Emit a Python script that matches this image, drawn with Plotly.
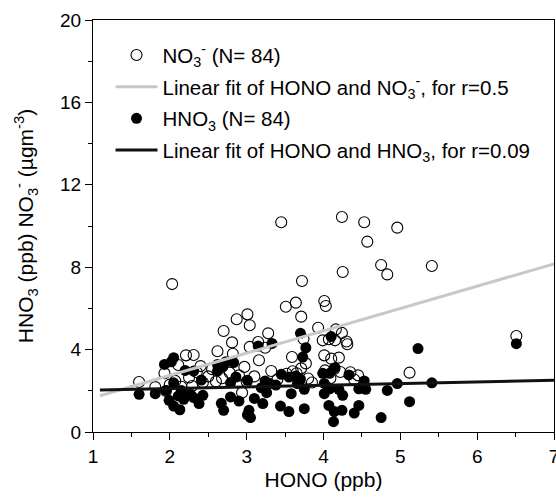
import numpy as np
import plotly.graph_objects as go

# HONO (ppb) vs NO3- (open circles)
no3_hono = [3.45, 4.24, 4.53, 4.96, 4.57, 2.03, 3.72, 4.75, 4.83, 4.25, 5.41, 3.51, 3.64, 4.01, 4.03,
            3.71, 3.01, 3.04, 2.87, 2.70, 2.81, 3.28, 3.15, 3.04, 3.24, 3.93, 4.16, 4.24, 3.99, 4.07,
            4.15, 4.30, 4.31, 3.74, 2.62, 2.82, 2.21, 2.31, 3.59, 4.01, 4.10, 4.20, 2.40, 2.97, 3.77,
            3.71, 4.02, 4.14, 3.32, 5.12, 1.93, 2.68, 4.09, 1.60, 2.07, 1.81, 2.29, 2.94, 1.95, 2.78,
            4.22, 3.52, 2.43, 2.11, 3.16, 6.51, 2.55, 2.25, 3.40, 3.60, 3.85, 4.45, 2.00, 2.35, 2.90,
            3.10, 3.65, 4.40, 2.15, 2.60, 3.80, 4.35, 3.00, 2.50]
no3_val = [10.18, 10.44, 10.18, 9.92, 9.24, 7.18, 7.33, 8.11, 7.65, 7.77, 8.06, 6.08, 6.28, 6.36, 6.12,
           5.60, 5.71, 5.18, 5.47, 4.90, 4.35, 4.79, 4.37, 4.13, 4.09, 5.06, 4.98, 4.81, 4.45, 4.50,
           4.45, 4.39, 4.26, 4.51, 3.92, 3.80, 3.72, 3.74, 3.64, 3.72, 3.56, 3.61, 3.20, 3.16, 3.33,
           3.09, 2.99, 3.06, 2.96, 2.88, 2.85, 2.61, 2.61, 2.43, 2.48, 2.18, 2.23, 1.91, 1.99, 2.88,
           2.91, 2.83, 2.40, 3.25, 3.48, 4.66, 3.05, 2.65, 2.55, 2.95, 2.40, 2.75, 2.30, 2.90, 2.75,
           2.70, 2.85, 2.55, 2.20, 2.45, 2.60, 2.90, 2.45, 2.70]

# HONO (ppb) vs HNO3 (filled circles)
hno3_hono = [6.51, 5.23, 5.41, 4.96, 4.83, 5.12, 4.75, 4.10, 3.70, 3.77, 3.73, 3.33, 3.15, 4.15, 4.33,
             3.99, 4.08, 4.53, 4.46, 4.55, 4.01, 4.07, 4.01, 4.25, 4.07, 4.14, 4.24, 4.13, 4.46, 4.40,
             3.45, 3.55, 3.64, 3.70, 3.38, 3.75, 3.58, 3.75, 3.44, 3.55, 3.24, 3.30, 3.26, 3.01, 2.86,
             2.79, 2.83, 2.73, 2.62, 2.62, 2.69, 3.10, 3.21, 3.03, 3.01, 3.05, 2.67, 2.70, 2.79, 2.90,
             2.41, 2.31, 2.20, 2.05, 2.02, 1.93, 2.05, 1.95, 2.15, 2.27, 2.43, 2.38, 2.31, 1.99, 2.05,
             2.13, 2.11, 1.60, 1.81, 2.18, 4.20, 3.19, 3.66, 4.08]
hno3_val = [4.29, 4.05, 2.39, 2.35, 2.02, 1.47, 0.70, 4.63, 4.79, 4.09, 3.64, 4.30, 4.17, 3.12, 2.77,
            2.85, 2.85, 2.48, 2.10, 2.07, 2.36, 2.15, 1.86, 1.78, 1.29, 0.99, 1.05, 0.50, 1.29, 0.92,
            2.80, 2.67, 2.72, 2.56, 2.28, 2.07, 1.86, 1.13, 1.26, 0.99, 2.48, 2.35, 1.91, 2.51, 2.67,
            2.39, 3.37, 3.41, 3.28, 2.96, 3.16, 1.63, 1.38, 1.05, 0.83, 0.70, 1.39, 1.05, 1.70, 1.50,
            2.52, 2.96, 2.99, 3.61, 3.41, 3.28, 2.39, 2.02, 2.02, 1.83, 1.78, 1.38, 1.67, 1.54, 1.26,
            1.08, 1.75, 1.83, 1.86, 1.59, 2.07, 2.15, 2.35, 2.10]

# Linear fits (slope, intercept) and fit x-extent
no3_fit = (1.083, 0.58)
hno3_fit = (0.0795, 1.953)
fit_x = [1.09, 7.0]

fx = np.array(fit_x)

fig = go.Figure()
fig.add_trace(go.Scatter(
    x=no3_hono, y=no3_val, mode="markers",
    name="NO<sub>3</sub><sup>-</sup> (N= 84)", legendrank=1, legendgroup="a",
    marker=dict(symbol="circle-open", size=11, color="black", line=dict(width=1.1, color="black")),
))
fig.add_trace(go.Scatter(
    x=hno3_hono, y=hno3_val, mode="markers",
    name="HNO<sub>3</sub> (N= 84)", legendrank=3, legendgroup="c",
    marker=dict(symbol="circle", size=11, color="black", line=dict(width=0)),
))
fig.add_trace(go.Scatter(
    x=fx, y=no3_fit[0] * fx + no3_fit[1], mode="lines",
    name="Linear fit of HONO and NO<sub>3</sub><sup>-</sup>, for r=0.5", legendrank=2, legendgroup="b",
    line=dict(color="#c8c8c8", width=3),
))
fig.add_trace(go.Scatter(
    x=fx, y=hno3_fit[0] * fx + hno3_fit[1], mode="lines",
    name="Linear fit of HONO and HNO<sub>3</sub>, for r=0.09", legendrank=4, legendgroup="d",
    line=dict(color="#111111", width=3),
))

axis_common = dict(
    showline=True, linecolor="black", linewidth=1.2, mirror=True,
    ticks="outside", ticklen=7, tickwidth=1.2, tickcolor="black",
    showgrid=False, zeroline=False, automargin=False,
    tickfont=dict(family="Liberation Sans, Arial", size=19, color="black"),
)

fig.update_layout(
    width=556, height=498,
    margin=dict(l=93, r=2, t=20, b=66),
    paper_bgcolor="white", plot_bgcolor="white",
    font=dict(family="Liberation Sans, Arial", color="black"),
    showlegend=True,
    legend=dict(
        x=0.038, y=0.963, xanchor="left", yanchor="top",
        bgcolor="rgba(0,0,0,0)", font=dict(size=20.5, color="black"),
        traceorder="grouped", tracegroupgap=2, itemwidth=42,
    ),
    xaxis=dict(
        range=[1, 7], dtick=1, tick0=1, ticklabeloverflow="allow",
        title=dict(text="HONO (ppb)", font=dict(size=21), standoff=6),
        minor=dict(ticks="outside", ticklen=4, tickwidth=1.2, tickcolor="black", dtick=0.5),
        **axis_common,
    ),
    yaxis=dict(
        range=[0, 20], dtick=4, tick0=0,
        title=dict(text="HNO<sub>3</sub> (ppb) NO<sub>3</sub><sup>-</sup> (µgm<sup>-3</sup>)",
                   font=dict(size=21), standoff=20),
        minor=dict(ticks="outside", ticklen=4, tickwidth=1.2, tickcolor="black", dtick=2),
        **axis_common,
    ),
)

fig.write_html("out.html")
